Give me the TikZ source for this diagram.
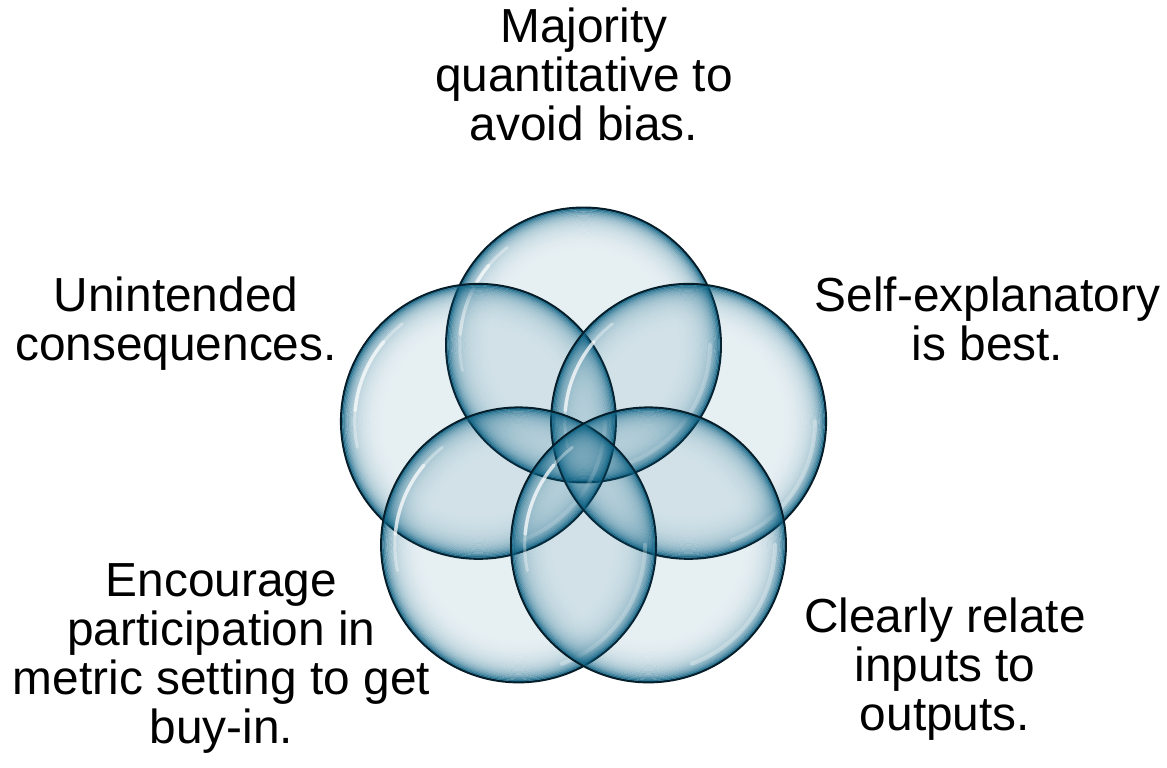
\documentclass[tikz,border=0pt]{standalone}
\usepackage{fontspec}
\setmainfont{Liberation Sans}
\usepackage{tikz}
\usetikzlibrary{calc}

\definecolor{bubbleRim}{RGB}{14,98,132}
\definecolor{bubbleLine}{RGB}{6,30,42}

\tikzset{
  labeltext/.style={align=center, inner sep=0pt, font=\fontsize{13.6}{13.95}\selectfont},
  bubblefill/.style={fill=bubbleRim, fill opacity=0.1},
  bubbleline/.style={draw=bubbleLine, line width=0.55pt},
  gloss/.style={draw=white, line cap=round},
}

\begin{document}
\begin{tikzpicture}
  \useasboundingbox (0,0) rectangle (11.67,7.67);
  \def\R{1.375}

  % centres of the five bubbles (regular pentagon)
  \coordinate (mid) at (5.835,3.115);
  \foreach \name/\ang in {bias/90, unint/162, buyin/234, relate/306, selfexp/18} {
    \coordinate (\name) at ($(mid)+(\ang:1.105)$);
  }

  \def\drawBubble#1{
    \fill[bubblefill] (#1) circle (\R);
    % darker rim, fading inwards to nothing
    \foreach \k in {0,...,33} {
      \pgfmathsetmacro\t{(\k+0.5)*0.013}
      \pgfmathsetmacro\op{0.85*exp(-\t/0.05)+0.3*(1-\t/0.45)^2}
      \draw[bubbleRim, line width=0.0135cm, draw opacity=\op]
        (#1) circle ({\R-\t});
    }
    % glossy streaks
    \pgfmathsetmacro\rg{0.9*\R}
    \draw[gloss, line width=0.03cm, draw opacity=0.35] ($(#1)+(128:\rg)$) arc (128:192:\rg);
    \draw[gloss, line width=0.035cm, draw opacity=0.6] ($(#1)+(140:\rg)$) arc (140:175:\rg);
    \pgfmathsetmacro\rh{0.92*\R}
    \draw[gloss, line width=0.04cm, draw opacity=0.3] ($(#1)+(-70:\rh)$) arc (-70:0:\rh);
    \draw[bubbleline] (#1) circle (\R);
  }

  \drawBubble{bias}
  \drawBubble{unint}
  \drawBubble{selfexp}
  \drawBubble{buyin}
  \drawBubble{relate}

  % labels round the bubbles
  \node[labeltext] (tbias) at (5.84,6.93) {Majority\\quantitative to\\avoid bias.};
  \node[labeltext] (tunint) at (1.76,4.435) {Unintended\\consequences.};
  \node[labeltext] (tselfexp) at (9.875,4.485) {Self-explanatory\\is best.};
  \node[labeltext] (trelate) at (9.45,0.98) {Clearly relate\\inputs to\\outputs.};
  \node[labeltext] (tbuyin) at (2.215,1.085) {Encourage\\participation in\\metric setting to get\\buy-in.};
\end{tikzpicture}
\end{document}
